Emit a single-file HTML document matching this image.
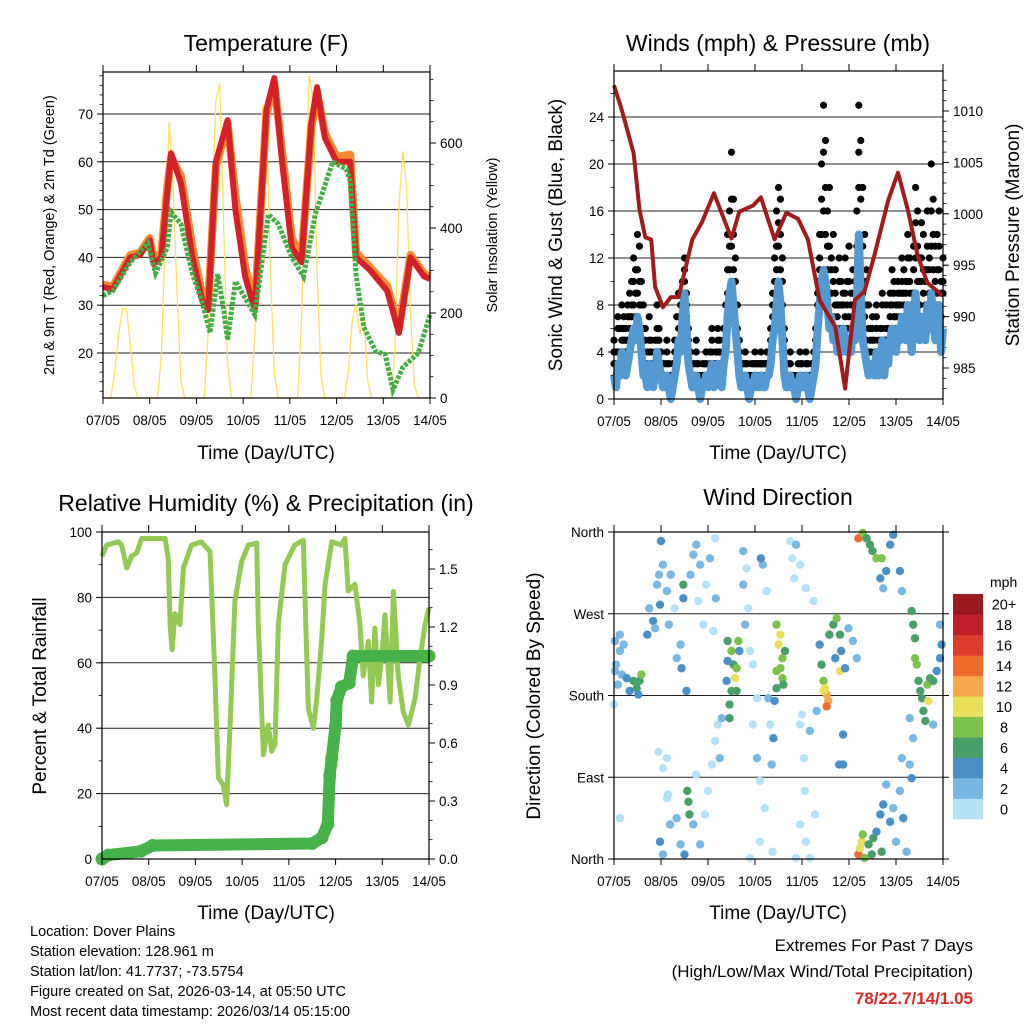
<!DOCTYPE html>
<html><head><meta charset="utf-8"><style>
html,body{margin:0;padding:0;background:#fff}
svg{display:block;font-family:"Liberation Sans",Arial,sans-serif}
</style></head><body>
<svg id="root" width="1024" height="1024" viewBox="0 0 1024 1024" xmlns="http://www.w3.org/2000/svg">
<rect width="1024" height="1024" fill="#fff"/>
<text x="266" y="51" font-size="23" text-anchor="middle">Temperature (F)</text>
<text x="778" y="51" font-size="23" text-anchor="middle">Winds (mph) &amp; Pressure (mb)</text>
<text x="266" y="511" font-size="23" text-anchor="middle">Relative Humidity (%) &amp; Precipitation (in)</text>
<text x="778" y="505" font-size="23" text-anchor="middle">Wind Direction</text>
<g id="p1"></g>
<g id="p2"></g>
<g id="p3"></g>
<g id="p4"></g>
<text x="266" y="459" font-size="19" text-anchor="middle">Time (Day/UTC)</text>
<text x="778" y="459" font-size="19" text-anchor="middle">Time (Day/UTC)</text>
<text x="266" y="919" font-size="19" text-anchor="middle">Time (Day/UTC)</text>
<text x="778" y="919" font-size="19" text-anchor="middle">Time (Day/UTC)</text>
<text transform="translate(54,235) rotate(-90)" font-size="14.5" text-anchor="middle">2m &amp; 9m T (Red, Orange) &amp; 2m Td (Green)</text>
<text transform="translate(497,235) rotate(-90)" font-size="14.5" text-anchor="middle">Solar Insolation (Yellow)</text>
<text transform="translate(562,235) rotate(-90)" font-size="19" text-anchor="middle">Sonic Wind &amp; Gust (Blue, Black)</text>
<text transform="translate(1019,235) rotate(-90)" font-size="19" text-anchor="middle">Station Pressure (Maroon)</text>
<text transform="translate(46,696) rotate(-90)" font-size="19" text-anchor="middle">Percent &amp; Total Rainfall</text>
<text transform="translate(540,696) rotate(-90)" font-size="19" text-anchor="middle">Direction (Colored By Speed)</text>
<g font-size="14.5">
<text x="30" y="936">Location: Dover Plains</text>
<text x="30" y="956">Station elevation: 128.961 m</text>
<text x="30" y="976">Station lat/lon: 41.7737; -73.5754</text>
<text x="30" y="996">Figure created on Sat, 2026-03-14, at 05:50 UTC</text>
<text x="30" y="1016">Most recent data timestamp: 2026/03/14 05:15:00</text>
</g>
<text x="973" y="951" font-size="17" text-anchor="end">Extremes For Past 7 Days</text>
<text x="973" y="977" font-size="17" text-anchor="end">(High/Low/Max Wind/Total Precipitation)</text>
<text x="973" y="1004" font-size="17" font-weight="bold" fill="#d42a2a" text-anchor="end">78/22.7/14/1.05</text>
<g id="cbar"></g>
</svg>
<script>
// ---------- DATA ----------
const dayLabels = ["07/05","08/05","09/05","10/05","11/05","12/05","13/05","14/05"];
const tHours = [0,5,14,19,24,26,30,33,35,40,46,51,54,58,64,68,73,78,84,88,92,97,102,107,110,114,120,127,130,137,146,152,158,165,168];
const temp2m = [33.8,33.3,40,40.5,43.6,38.6,40,53.5,61.8,55.5,40,31,29,60,68.7,50,36,29,71,77.5,60,42,39,68,75.6,65,60,60,40,37.4,33,24.2,40,36,35.5];
const temp9m = [34.3,33.8,40.5,41,44,39.5,41,54.5,61,57,42,32,30,59,68,53,38,30,70,76.5,62,44,40,67,74.5,66,61,61.5,41,38,34,25,40.5,36.5,36];
const tdHours = [0,5,14,23,27,33,35,40,46,51,55,59,62,64,68,78,85,90,97,103,109,118,125,127,130,134,140,145,149,154,162,168];
const dewpoint = [32,33,39,43,36.7,42,49.5,47,36.5,30.5,24.2,36.5,29,22.7,35,28,49,47,40,36,49,60,58.5,56,36.5,25.4,20.4,19.7,12.3,17,20,28];
const solar = [0,0,0,60,150,210,210,130,30,0,0,0,
  0,0,0,100,380,650,500,250,40,0,0,0,
  0,0,0,150,450,700,740,400,80,0,0,0,
  0,0,0,150,420,690,650,300,60,0,0,0,
  0,0,0,180,520,760,700,300,50,0,0,0,
  0,0,0,60,180,220,150,200,40,0,0,0,
  0,0,0,120,450,580,500,200,30,0,0,0,0];
const wind = [2,1,3,2,4,3,2,3,4,5,6,5, 7,6,4,2,2,1,3,2,1,2,4,3, 2,1,1,2,1,0,1,2,3,5,4,7, 9,6,3,2,1,1,2,1,0,1,1,2,
  1,2,3,1,2,3,2,1,3,4,7,9, 10,8,6,4,2,1,1,2,1,0,1,1, 2,1,1,2,1,1,2,2,3,5,6,8, 10,8,5,2,1,1,2,1,1,0,1,2,
  1,1,2,1,0,1,2,3,6,8,10,11, 10,8,6,7,5,6,4,5,4,6,5,4, 5,4,6,5,8,14,9,5,4,3,2,3, 3,2,4,2,3,5,2,4,3,5,6,5,
  4,6,5,7,6,5,8,6,4,7,9,6, 5,7,6,5,8,6,9,7,5,6,8,4,6];
const gustHigh = [5,4,7,6,8,7,6,8,9,10,12,11, 14,13,10,8,6,4,7,5,3,5,8,6, 4,3,3,5,3,2,3,5,7,9,8,10, 12,9,6,4,3,3,5,3,2,3,3,4,
  2,4,6,3,4,6,5,3,6,8,14,16, 21,17,12,8,5,3,3,4,3,2,3,3, 4,3,3,4,3,3,4,4,6,9,12,16, 18,17,12,6,3,3,4,2,2,1,3,4,
  3,2,4,3,2,3,4,6,10,14,20,25, 22,16,18,12,14,11,8,12,10,9,12,10, 13,9,11,10,16,25,22,18,14,11,8,6, 7,5,8,5,6,9,5,8,6,9,11,10,
  8,10,9,12,11,10,14,12,9,13,18,16, 12,15,14,11,16,12,20,17,13,14,16,10,12];
const gustMid = [4,3,6,4,6,6,5,7,7,8,10,9, 11,10,8,6,5,3,5,4,3,4,6,5, 3,3,2,4,3,2,3,4,5,7,7,9, 11,8,5,4,3,2,4,3,2,2,3,3,
  2,3,5,3,3,5,4,3,5,6,11,13, 17,14,10,6,4,3,3,3,3,2,2,3, 3,3,3,3,3,3,3,4,5,8,10,13, 15,14,10,5,3,2,3,2,2,1,2,3,
  3,2,3,3,2,3,3,5,9,12,17,21, 18,13,13,11,10,9,7,10,8,8,9,8, 10,8,9,9,13,21,17,13,10,8,6,5, 6,4,7,4,5,8,4,6,5,8,9,9,
  7,9,8,10,9,9,12,10,8,11,15,13, 10,12,11,10,13,11,16,14,10,11,13,9,10];
const gustLow = [3,2,4,3,5,5,4,5,6,7,8,7, 9,8,6,4,3,2,4,3,2,3,5,4, 3,2,2,3,2,1,2,3,4,6,6,8, 10,7,4,3,2,2,3,2,1,2,2,3,
  1,3,4,2,3,4,3,2,4,5,9,11, 13,11,8,5,3,2,2,3,2,1,2,2, 3,2,2,3,2,2,3,3,4,7,8,11, 13,11,8,4,2,2,3,1,1,1,2,3,
  2,1,3,2,1,2,3,4,8,11,14,16, 14,11,9,9,7,8,6,8,6,8,7,6, 7,6,8,7,11,18,13,9,7,5,4,4, 5,3,6,3,4,6,3,5,4,7,8,7,
  6,8,7,9,8,7,10,9,7,9,12,10, 8,10,9,8,11,9,13,11,8,9,11,7,9];
const pHours = [0,4,7,10,13,16,19,21,25,29,33,40,45,51,60,64,71,75,82,88,94,99,105,113,118,123,128,133,140,145,150,155,160,168];
const pressure = [1012.5,1010.1,1008,1005.9,1000.4,997.7,997.5,992.9,990.9,991.9,991.9,997.5,999.2,1002,997.6,1000.2,1000.8,1001.6,997.5,1000.1,999.5,997.5,991.6,989,983,991.6,992.5,996,1001.3,1004,1000.4,996,993.3,992];
const rhHours = [0,2.4,8.4,10.1,12.7,15.2,17.8,20.4,32.4,34,35,36,37.5,40,41.8,46,51,55.5,58,59.8,62.3,64,65.8,68.3,71.7,75.2,79.5,80.3,82.9,85.4,87.2,88.9,90.6,94,99,103.4,106,108.6,110.3,112.8,114.6,118,123,124.8,126.5,130,132.5,134.2,136.8,138.5,140.2,142,143.7,145.4,148,149.7,152.2,154.8,157.4,160.8,163.4,166,168];
const humidity = [92.6,96,97,96,89,92.6,93.6,98,98,92,71.7,64,75,71.7,89,96,97,94,56,24.8,22.7,16.6,41,78.8,91,96,96.6,71.7,31.9,41,33,35,71.7,90,96,97.5,46,40,49,66.6,84,97,96,98,82,84,71.7,56,66.6,48,70.6,53.3,61.5,74.7,48,81.8,56,45,41,49,61.5,71.7,76.8];
const precipHours = [0,3.3,20,26,108,113,116,117,118,120,120.6,123,127,129,168];
const precip = [0,0.02,0.04,0.07,0.08,0.11,0.18,0.43,0.52,0.69,0.82,0.89,0.91,1.05,1.05];
const dirHours = [0.5,1,2,3,4,5,6.5,8,10,11.6,13,12.4,14,0.5,3,0,
 17,18,20,21,22,23,23.5,24,25,27,28,29,31,32,34,34.5,35.4,35.4,37,39,40.5,42,44,43,45.6,47,49,51.6,52,50.7,
 23.5,25,28.6,27,32,34,36,37.4,38,38.5,40.5,42,44,46.5,48,50,51.6,53,54,55,27.7,22.6,25,3,27,
 58,60,61,61.8,62.6,60,59,59,63.5,58,62.6,64,57.5,
 66,67.7,66,68.6,67,69.5,71,73,71,73,74.5,77,74.5,76,78,79.7,80.5,78.8,81,69.5,75,
 83,85,84,86,83,86,85,86.5,83,87.3,82,81.4,
 90,91,92,93,95,98,102,95,97,97.5,95,98,100,93,96,100,102.6,103.5,
 105,106,107,107.7,108.6,109.4,108.6,107,110,112,113.7,115.4,116,115.4,113,118,119.7,122,124,117,117,115,
 124.8,127,129,130.7,132,134,136.7,136,137.5,139,141,142.6,146,147,
 124.8,125.6,126.5,127,128,130,131.6,132.4,134,136,136.7,137.5,139,141,142.6,144,146,147.7,149.4,151,152,152.8,151,147,
 152.8,153.7,154.6,155.5,156.4,157.3,158,159,160.5,160,161.4,163,164.8,166.5,167.3,163,166.5,152,153.7];
const dirDegrees = [240,214,192,229,203,236,199,185,196,188,196,181,203,207,247,170,
 247,276,262,254,302,313,280,350,324,295,258,313,276,221,236,210,302,287,185,313,335,346,324,284,258,302,331,353,287,251,
 19,5,38,67,45,16,5,75,63,49,38,93,16,49,75,104,130,148,111,155,71,118,100,45,111,
 240,229,214,199,210,185,170,155,240,218,185,229,196,
 339,320,302,276,258,229,214,177,148,111,86,56,19,324,295,148,104,177,8,1,331,
 258,247,236,221,207,199,210,192,188,229,174,133,
 350,331,309,346,324,298,284,148,111,75,38,19,1,1,159,141,49,163,
 236,214,196,188,181,174,168,185,247,258,265,247,229,207,221,210,254,240,221,137,104,104,
 353,359,353,346,339,331,331,309,298,317,346,357,317,295,
 5,12,19,27,1,16,5,23,30,49,8,60,82,41,56,19,75,45,8,104,89,133,155,111,
 258,243,214,196,185,177,163,152,174,192,199,196,207,221,236,148,258,273,221];
const dirSpeeds = [3,2,3,2,3,2,4,4,6,6,6,4,8,2,3,1,
 4,3,4,3,2,3,4,4,2,3,2,3,1,2,3,4,7,5,4,3,3,2,3,1,1,1,2,1,2,1,
 4,3,2,1,2,3,4,6,6,6,3,1,2,1,1,1,1,1,2,2,1,1,1,1,1,
 6,8,6,10,8,6,6,6,8,4,6,4,4,
 2,1,2,1,2,1,1,1,1,2,1,1,1,3,1,1,3,2,1,1,4,
 8,10,10,8,8,8,8,6,6,6,4,4,
 1,1,1,2,1,1,1,1,1,1,1,1,1,1,1,2,1,2,
 4,6,8,10,12,12,14,10,6,6,8,6,4,10,4,4,3,3,3,4,4,4,
 14,8,6,6,6,8,8,4,3,4,4,4,4,3,
 14,10,10,8,8,6,6,6,4,4,6,4,3,4,3,3,3,4,3,3,4,3,2,2,
 6,6,8,6,6,6,6,6,10,8,6,6,4,4,4,3,2,6,8];
const speedLabels = ["0","2","4","6","8","10","12","14","16","18","20+"];
const speedColors = ["#b6e2f7","#7ab8e4","#4a8fc6","#47a06a","#7dc24a","#e8e05c","#f7a84a","#ef6a2d","#dd3b2e","#c0202a","#9b1b1e"];

// ---------- HELPERS ----------
const NS = "http://www.w3.org/2000/svg";
function mk(tag, parent, attrs){const e=document.createElementNS(NS,tag);for(const k in attrs)e.setAttribute(k,attrs[k]);parent.appendChild(e);return e;}
function lin(d0,d1,r0,r1){return v=>r0+(v-d0)*(r1-r0)/(d1-d0);}
function pathFrom(xs,ys,fx,fy){let d="";for(let i=0;i<xs.length;i++){d+=(i?"L":"M")+fx(xs[i]).toFixed(1)+","+fy(ys[i]).toFixed(1);}return d;}

function frame(g, box, name){
  const r=mk("rect",g,{x:box.x0,y:box.y0,width:box.x1-box.x0,height:box.y1-box.y0,fill:"none",stroke:"#000","stroke-width":1.2});
  
  
  const fx=lin(0,168,box.x0,box.x1);
  for(let k=0;k<=7;k++){
    const x=fx(k*24);
    const t1=mk("line",g,{x1:x,x2:x,y1:box.y1,y2:box.y1+6,stroke:"#000"});
    
    
    const t2=mk("line",g,{x1:x,x2:x,y1:box.y0,y2:box.y0-7,stroke:"#000"});
    
    
    const tl=mk("text",g,{x:x,y:box.y1+27,"font-size":13.5,"text-anchor":"middle"});
    tl.textContent=dayLabels[k];
    
    
  }
  return fx;
}
function yAxis(g, box, fy, ticks, labels, side, grid, minors){
  const x = side==="L"?box.x0:box.x1;
  const dir = side==="L"?-1:1;
  if(minors){for(const m of minors){const y=fy(m);if(y<box.y0-0.5||y>box.y1+0.5)continue;
    const l=mk("line",g,{x1:x,x2:x+dir*3.5,y1:y,y2:y,stroke:"#000","stroke-width":0.8});
    
    }}
  ticks.forEach((t,i)=>{
    const y=fy(t);
    if(grid && y>box.y0+1 && y<box.y1-1){
      const gl=mk("line",g,{x1:box.x0,x2:box.x1,y1:y,y2:y,stroke:"#222","stroke-width":1});
      
      
    }
    const l=mk("line",g,{x1:x,x2:x+dir*6,y1:y,y2:y,stroke:"#000"});
    
    
    const tx=mk("text",g,{x:x+dir*10,y:y+5,"font-size":13.5,"text-anchor":side==="L"?"end":"start"});
    tx.textContent=labels[i];
    
    
  });
}
function range(a,b,s){const r=[];for(let v=a;v<=b+1e-9;v+=s)r.push(+v.toFixed(3));return r;}

// ---------- PANEL 1 TEMPERATURE ----------
(function(){
  const g=document.getElementById("p1");
  const box={x0:103,x1:430,y0:72,y1:398};
  const fy=lin(20,70,353,114);
  const fs=lin(0,600,398,143);
  const fx=lin(0,168,box.x0,box.x1);
  yAxis(g,box,fy,[20,30,40,50,60,70],["20","30","40","50","60","70"],"L",true,range(12,78,2));
  yAxis(g,box,fs,[0,200,400,600],["0","200","400","600"],"R",false,range(0,750,50));
  const sh=solar.map((_,i)=>i*2);
  const ys=mk("path",g,{d:pathFrom(sh,solar,fx,fs),fill:"none",stroke:"#ffe060","stroke-width":1.3});
  
  
  const o=mk("path",g,{d:pathFrom(tHours,temp9m,fx,fy),fill:"none",stroke:"#f58a2e","stroke-width":8,"stroke-linejoin":"round"});
  
  
  const r=mk("path",g,{d:pathFrom(tHours,temp2m,fx,fy),fill:"none",stroke:"#d42027","stroke-width":6,"stroke-linejoin":"round"});
  
  
  const d=mk("path",g,{d:pathFrom(tdHours,dewpoint,fx,fy),fill:"none",stroke:"#46ad45","stroke-width":5,"stroke-dasharray":"3.5 1.5"});
  
  
  frame(g,box,"temperature");
})();

// ---------- PANEL 2 WINDS ----------
(function(){
  const g=document.getElementById("p2");
  const box={x0:614,x1:943,y0:71,y1:399};
  const fy=lin(0,24,399,117);
  const fp=lin(985,1010,368,111);
  const fx=lin(0,168,box.x0,box.x1);
  yAxis(g,box,fy,[0,4,8,12,16,20,24],["0","4","8","12","16","20","24"],"L",true,range(0,27,2));
  yAxis(g,box,fp,[985,990,995,1000,1005,1010],["985","990","995","1000","1005","1010"],"R",false,range(983,1014,1));
  const wh=wind.map((_,i)=>i);
  [gustHigh,gustMid,gustLow].forEach(arr=>{
    arr.forEach((v,i)=>{
      const c=mk("circle",g,{cx:fx(i),cy:fy(v),r:3.6,fill:"#000"});
      
      
    });
  });
  const w=mk("path",g,{d:pathFrom(wh,wind,fx,fy),fill:"none",stroke:"#5599d2","stroke-width":8,"stroke-linejoin":"round"});
  
  
  const p=mk("path",g,{d:pathFrom(pHours,pressure,fx,fp),fill:"none",stroke:"#a01c1c","stroke-width":4,"stroke-linejoin":"round"});
  
  
  frame(g,box,"winds");
})();

// ---------- PANEL 3 HUMIDITY ----------
(function(){
  const g=document.getElementById("p3");
  const box={x0:102,x1:429,y0:532,y1:859};
  const fy=lin(0,100,859,532);
  const fr=lin(0,0.3,859,801);
  const fx=lin(0,168,box.x0,box.x1);
  yAxis(g,box,fy,[0,20,40,60,80,100],["0","20","40","60","80","100"],"L",true,range(0,100,10));
  yAxis(g,box,fr,[0,0.3,0.6,0.9,1.2,1.5],["0.0","0.3","0.6","0.9","1.2","1.5"],"R",false,range(0,1.7,0.1));
  const h=mk("path",g,{d:pathFrom(rhHours,humidity,fx,fy),fill:"none",stroke:"#93c954","stroke-width":5,"stroke-linejoin":"round"});
  
  
  const p=mk("path",g,{d:pathFrom(precipHours,precip,fx,fr),fill:"none",stroke:"#46b34a","stroke-width":12,"stroke-linejoin":"round","stroke-linecap":"round"});
  
  
  precip.forEach((v,i)=>{
    const c=mk("circle",g,{cx:fx(precipHours[i]),cy:fr(v),r:6.5,fill:"#46b34a"});
    
    
  });
  frame(g,box,"humidity");
})();

// ---------- PANEL 4 DIRECTION ----------
(function(){
  const g=document.getElementById("p4");
  const box={x0:614,x1:943,y0:532,y1:859};
  const fy=lin(0,360,859,532);
  const fx=lin(0,168,box.x0,box.x1);
  yAxis(g,box,fy,[0,90,180,270,360],["North","East","South","West","North"],"L",true,null);
  const rt=[0,90,180,270,360];
  rt.forEach(t=>{const l=mk("line",g,{x1:box.x1,x2:box.x1+6,y1:fy(t),y2:fy(t),stroke:"#000"});
    
    });
  dirHours.forEach((h,i)=>{
    const bin=Math.min(10,Math.floor(dirSpeeds[i]/2));
    const c=mk("circle",g,{cx:fx(h),cy:fy(dirDegrees[i]),r:4.2,fill:speedColors[bin]});
    
    
  });
  frame(g,box,"direction");
  const cb=document.getElementById("cbar");
  const t=mk("text",cb,{x:990,y:587,"font-size":14});
  t.textContent="mph";
  
  
  const bh=225/11;
  speedLabels.forEach((lab,i)=>{
    const y=819-(i+1)*bh;
    const r=mk("rect",cb,{x:953,y:y,width:30,height:bh+0.3,fill:speedColors[i]});
    
    
    const tx=mk("text",cb,{x:1004,y:y+bh/2+5.5,"font-size":14.5,"text-anchor":"middle"});
    tx.textContent=lab;
    
    
  });
})();
</script>
</body></html>
